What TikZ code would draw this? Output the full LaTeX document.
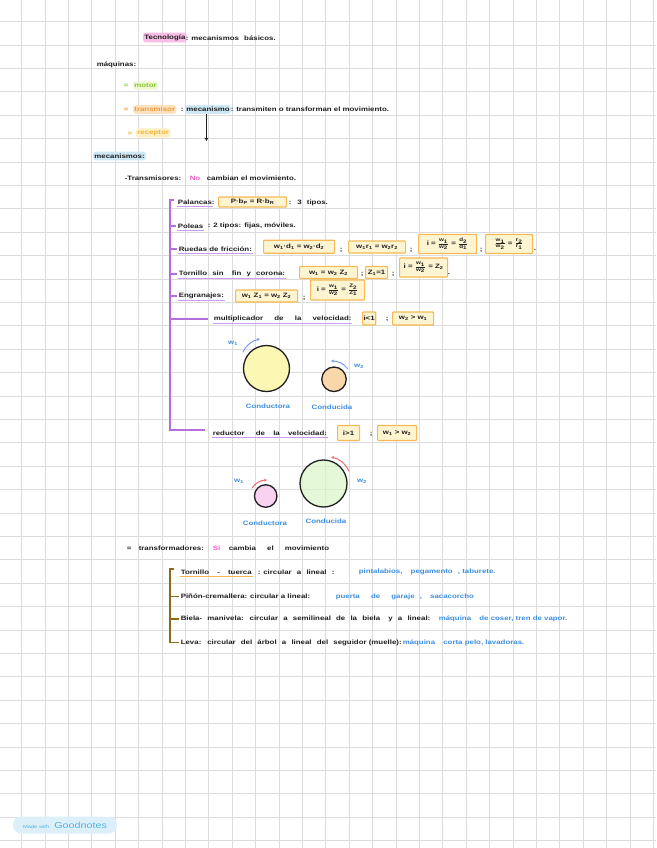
\documentclass[tikz,border=0pt]{standalone}
\usepackage{fontspec}
\setmainfont{Liberation Sans}[FakeStretch=1.25]
\usetikzlibrary{arrows.meta}

\definecolor{ink}{HTML}{1F1F1F}
\definecolor{gridc}{HTML}{DCDCDC}
\definecolor{hlpink}{HTML}{F7BDE6}
\definecolor{hlgreen}{HTML}{EEF8CF}
\definecolor{txgreen}{HTML}{86C93A}
\definecolor{hlorange}{HTML}{FDE2C2}
\definecolor{txorange}{HTML}{F29A35}
\definecolor{hlyellow}{HTML}{FCF0C4}
\definecolor{txyellow}{HTML}{F2B43A}
\definecolor{hlblue}{HTML}{CFE8F6}
\definecolor{txpink}{HTML}{F05EC3}
\definecolor{boxline}{HTML}{F6B955}
\definecolor{boxfill}{HTML}{FDF5D2}
\definecolor{lila}{HTML}{B56FDB}
\definecolor{lilaline}{HTML}{CF9AF2}
\definecolor{bronze}{HTML}{8B6A1A}
\definecolor{orline}{HTML}{F6B450}
\definecolor{exblue}{HTML}{3D8FE0}
\definecolor{wblue}{HTML}{7B9BF0}
\definecolor{wred}{HTML}{F26B6B}
\definecolor{cyellow}{HTML}{FDF7B4}
\definecolor{corange}{HTML}{FAD7AA}
\definecolor{cpink}{HTML}{F9D2F2}
\definecolor{cgreen}{HTML}{DAF7C8}
\definecolor{gnfill}{HTML}{DDF0FA}
\definecolor{gntext}{HTML}{4FB3E3}

\newcommand{\hand}{\fontsize{6.3}{7}\selectfont\bfseries}
\newcommand{\ix}[1]{\textsubscript{#1}}
\newcommand{\gap}{\hspace{3pt}}
\newcommand{\fr}[2]{$\frac{\hbox{\fontsize{5}{5}\selectfont\bfseries #1}}{\hbox{\fontsize{5}{5}\selectfont\bfseries #2}}$}

\begin{document}
\begin{tikzpicture}[x=1pt, y=-1pt,
  txt/.style={anchor=west, inner sep=0.6pt, text=ink, font=\hand},
  hl/.style={txt, fill=#1, rounded corners=2.5pt, inner xsep=1.2pt, inner ysep=2pt},
  eqbox/.style={draw=boxline, fill=boxfill, line width=1.1pt, rounded corners=0.8pt,
    anchor=west, inner sep=1pt, font=\hand, text=ink},
  ex/.style={txt, text=exblue},
  gear/.style={circle, draw=ink, line width=1.3pt, inner sep=0pt},
  wlab/.style={font=\hand, text=exblue, inner sep=0.5pt},
  spin/.style={-{Stealth[length=3pt, width=3pt]}, line width=1pt, line cap=round},
  lilabar/.style={lila, line width=1.5pt},
  lilaul/.style={lilaline, line width=1.2pt},
  bronzebar/.style={bronze, line width=1.5pt},
]
\def\cell{23.4}
\def\gx{21.7}
\def\gy{21.7}

\useasboundingbox (0,0) rectangle (656,848);
\fill[white] (0,0) rectangle (656,848);

% ── grid paper ──────────────────
\foreach \k in {0,...,27}
  \draw[gridc, line width=0.9pt] ({\gx+\k*\cell},0) -- ({\gx+\k*\cell},848);
\foreach \k in {0,...,35}
  \draw[gridc, line width=0.9pt] (0,{\gy+\k*\cell}) -- (656,{\gy+\k*\cell});

% ── title ──────────────────
\node[hl=hlpink] (tec) at (143,37.5) {Tecnología};
\node[txt] (tecfin) at (185,38) {: mecanismos\gap{} básicos.};

% ── máquinas ──────────────────
\node[txt] (maq) at (96,65) {máquinas:};
\node[txt, text=txgreen] (eqmot) at (123,86) {=};
\node[hl=hlgreen, text=txgreen] (mot) at (133,85.5) {motor};
\node[txt, text=txorange] (eqtra) at (123,110) {=};
\node[hl=hlorange, text=txorange] (tra) at (133,109.5) {transmisor};
\node[txt] (tracol) at (180,109.5) {:};
\node[hl=hlblue] (mec) at (185,109.5) {mecanismo};
\node[txt] (mecfin) at (230,109.5) {: transmiten o transforman el movimiento.};
\node[txt, text=txyellow] (eqrec) at (127,133.5) {=};
\node[hl=hlyellow, text=txyellow] (rec) at (136,133) {receptor};

\coordinate (mecdown) at (206.5,141);
\draw[-{Stealth[length=3.5pt, width=3.5pt]}, ink, line width=1.1pt]
  (mecdown |- mec.south) -- (mecdown);

% ── mecanismos: transmisores ──────────────────
\node[hl=hlblue] (mecs) at (93,156) {mecanismos:};
\node[txt] (trm) at (124,178.5) {-Transmisores:};
\node[txt, text=txpink] (trmno) at (189,178.5) {No};
\node[txt] (trmfin) at (206,178.5) {cambian el movimiento.};

\node[txt] (pal) at (177,202.5) {Palancas};
\node[txt] (palcol) at (211,202.5) {:};
\node[eqbox, minimum width=68, minimum height=10] (palbox) at (218,202) {P·b\ix{P} = R·b\ix{R}};
\node[txt] (palfin) at (288,202.5) {:\gap{} 3\gap{} tipos.};

\node[txt] (pol) at (177,226) {Poleas};
\node[txt] (polfin) at (207,226) {: 2 tipos: fijas, móviles.};

\node[txt] (rue) at (178,249) {Ruedas de fricción:};
\node[eqbox, minimum width=71, minimum height=13] (rueA) at (263,246.7) {w\ix1·d\ix1 = w\ix2·d\ix2};
\node[txt] (rueS1) at (339,250) {;};
\node[eqbox, minimum width=57, minimum height=12] (rueB) at (348,247) {w\ix1r\ix1 = w\ix2r\ix2};
\node[txt] (rueS2) at (409,250) {;};
\node[eqbox, minimum width=58, minimum height=19] (rueC) at (418,244) {i = \fr{w\ix1}{w\ix2} = \fr{d\ix2}{d\ix1}};
\node[txt] (rueS3) at (479,250) {;};
\node[eqbox, minimum width=47, minimum height=19] (rueD) at (485,244) {\fr{w\ix1}{w\ix2} = \fr{r\ix2}{r\ix1}};
\node[txt] (rueend) at (533,250) {.};

\node[txt] (tor) at (178,274) {Tornillo\gap{} sin\gap\gap{} fin\gap{} y\gap{} corona:};
\node[eqbox, minimum width=58, minimum height=12] (torA) at (299,272.5) {w\ix1 = w\ix2 Z\ix2};
\node[txt] (torS1) at (360,274) {;};
\node[eqbox, minimum width=22, minimum height=12] (torB) at (365,272.5) {Z\ix1=1};
\node[txt] (torS2) at (391,274) {;};
\node[eqbox, minimum width=48, minimum height=19] (torC) at (399,267.5) {i = \fr{w\ix1}{w\ix2} = Z\ix2};
\node[txt] (torend) at (447,274) {.};

\node[txt] (eng) at (178,296) {Engranajes:};
\node[eqbox, minimum width=62, minimum height=12] (engA) at (235,296) {w\ix1 Z\ix1 = w\ix2 Z\ix2};
\node[txt] (engS) at (302,298) {;};
\node[eqbox, minimum width=54, minimum height=20] (engB) at (310,290) {i = \fr{w\ix1}{w\ix2} = \fr{Z\ix2}{Z\ix1}};

% ── multiplicador ──────────────────
\node[txt] (mul) at (213,319) {multiplicador\gap\gap\gap{} de\gap\gap\gap{} la\gap\gap\gap{} velocidad:};
\node[eqbox, minimum width=13, minimum height=13] (mulA) at (362,318.5) {i<1};
\node[txt] (mulS) at (385,319) {;};
\node[eqbox, minimum width=41, minimum height=13] (mulB) at (392,318.5) {w\ix2 > w\ix1};

\node[gear, fill=cyellow, minimum size=46] (mulC1) at (266.5,368.5) {};
\node[gear, fill=corange, minimum size=24.5] (mulC2) at (334,379.3) {};
\node[wlab] (mulw1) at (233,343) {w\ix1};
\node[wlab] (mulw2) at (359,366) {w\ix2};
\coordinate (mulA1s) at (243,352);
\coordinate (mulA1e) at (260,339);
\coordinate (mulA2s) at (348,369);
\coordinate (mulA2e) at (331,361);
\draw[spin, wblue] (mulA1s) to[bend left=25] (mulA1e);
\draw[spin, wblue] (mulA2s) to[bend right=25] (mulA2e);
\node[wlab] (mulL1) at (268,406) {Conductora};
\node[wlab] (mulL2) at (332,407) {Conducida};

% ── reductor ──────────────────
\node[txt] (red) at (212,433) {reductor\gap\gap\gap{} de\gap\gap{} la\gap\gap{} velocidad:};
\node[eqbox, minimum width=22, minimum height=15] (redA) at (337,433) {i>1};
\node[txt] (redS) at (369,434) {;};
\node[eqbox, minimum width=39, minimum height=15] (redB) at (377,433) {w\ix1 > w\ix2};

\node[gear, fill=cpink, minimum size=22.5] (redC1) at (265.7,496) {};
\node[gear, fill=cgreen, fill opacity=0.7, minimum size=47] (redC2) at (323.5,483.5) {};
\node[wlab] (redw1) at (239,481) {w\ix1};
\node[wlab] (redw2) at (362,481) {w\ix2};
\coordinate (redA1s) at (252,488);
\coordinate (redA1e) at (267,480);
\coordinate (redA2s) at (349,471);
\coordinate (redA2e) at (331,457);
\draw[spin, wred] (redA1s) to[bend left=25] (redA1e);
\draw[spin, wred] (redA2s) to[bend right=25] (redA2e);
\node[wlab] (redL1) at (265,523) {Conductora};
\node[wlab] (redL2) at (326,521) {Conducida};

% ── purple bracket ──────────────────
\coordinate (lbtop) at (170,200);
\coordinate (lbbot) at (170,430);
\draw[lilabar] ([xshift=4pt]lbtop) -- (lbtop) -- (lbbot) -- ([xshift=-7pt]red.west |- lbbot);
\foreach \n in {pol,rue,tor,eng}
  \draw[lilabar] (lbtop |- \n.west) -- ([xshift=-1pt]\n.west);
\draw[lilabar] (lbtop |- mul.west) -- ([xshift=-5pt]mul.west);
\foreach \n in {pal,pol,rue,tor,eng,mul,red}
  \draw[lilaul] ([yshift=-1pt]\n.south west) -- ([yshift=-1pt]\n.south east);

% ── transformadores ──────────────────
\node[txt] (eqtrf) at (126,548.5) {=};
\node[txt] (trf) at (138,548.5) {transformadores:};
\node[txt, text=txpink] (trfsi) at (212,548.5) {Sí};
\node[txt] (trffin) at (228,548.5) {cambia\gap\gap\gap{} el\gap\gap\gap{} movimiento};

\node[txt] (tt) at (180,572) {Tornillo\gap\gap{} - \gap\gap{}tuerca};
\node[txt] (ttfin) at (257,572) {: circular\gap{} a\gap{} lineal\gap{} :};
\node[ex] (ttex) at (358,572) {pintalabios,\gap\gap{} pegamento\gap{} , taburete.};
\draw[orline, line width=1.2pt] ([yshift=-1pt]tt.south west) -- ([yshift=-1pt]tt.south east);

\node[txt] (pc) at (180,596.5) {Piñón-cremallera: circular a lineal:};
\node[ex] (pcex) at (335,596.5) {puerta\gap\gap\gap{} de\gap\gap\gap{} garaje\gap{} ,\gap\gap{} sacacorcho};

\node[txt] (bm) at (180,619) {Biela-\gap{} manivela:\gap{} circular\gap{} a\gap{} semilineal\gap{} de\gap{} la\gap{} biela\gap\gap{} y\gap{} a\gap{} lineal:};
\node[ex] (bmex) at (438,619) {máquina\gap\gap{} de coser, tren de vapor.};

\node[txt] (lv) at (180,642.5) {Leva:\gap{} circular\gap{} del\gap{} árbol\gap{} a\gap{} lineal\gap{} del\gap{} seguidor (muelle):};
\node[ex] (lvex) at (402,642.5) {máquina\gap\gap{} corta pelo, lavadoras.};

% ── bronze bracket ──────────────────
\coordinate (btop) at (170,569);
\draw[bronzebar] ([xshift=4pt]btop) -- (btop) -- (btop |- lv.west) -- ([xshift=-1pt]lv.west);
\foreach \n in {pc,bm}
  \draw[bronzebar] (btop |- \n.west) -- ([xshift=-1pt]\n.west);

% ── badge ──────────────────
\node[fill=gnfill, rounded corners=8pt, minimum width=104, minimum height=17,
      inner sep=0pt, text=gntext] (gn) at (65,825)
  {{\fontsize{4.6}{5}\selectfont Made with}\, {\fontsize{8.6}{9}\selectfont Goodnotes}};

\end{tikzpicture}
\end{document}
